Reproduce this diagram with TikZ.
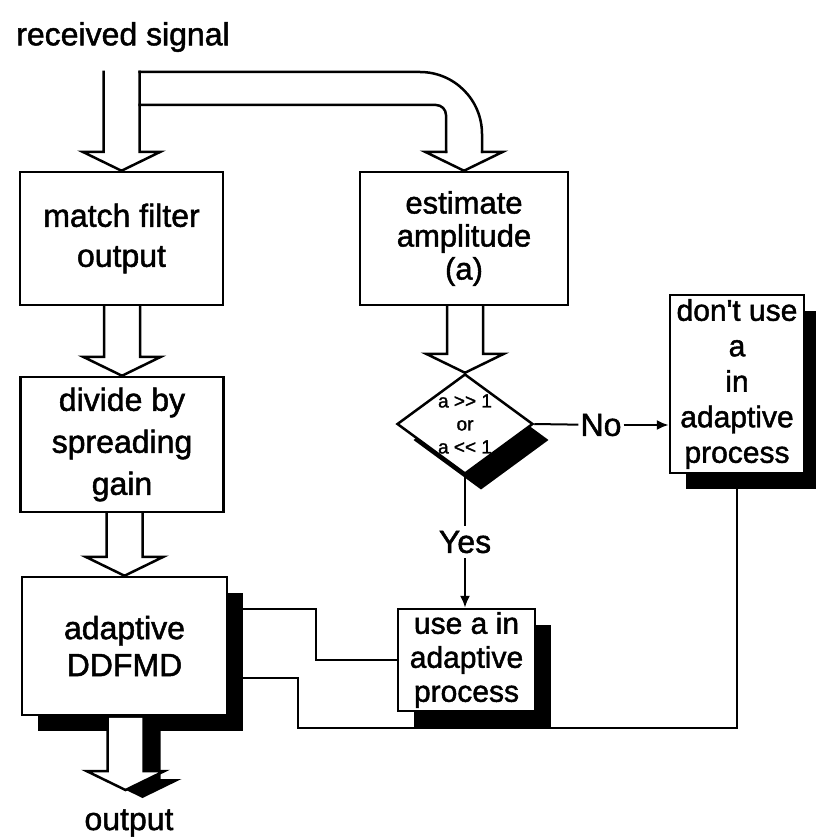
\documentclass[tikz,border=0pt]{standalone}
\usepackage{fontspec}
\setmainfont{Liberation Sans}[UprightFeatures={FakeBold=1.5}]
\usetikzlibrary{
  shapes.geometric,
  arrows.meta,
  calc,
  shadows,
  backgrounds
}
\tikzset{
  % Process box: width as argument
  blk/.style={
    rectangle, draw, line width=2.5pt, fill=white,
    minimum width=#1, inner sep=0pt, align=center
  },
  blk/.default=203pt,
  % Solid black offset shadow
  shd/.style={drop shadow={shadow xshift=16pt, shadow yshift=-16pt, fill=black, opacity=1}},
  opshd/.style={drop shadow={shadow xshift=17pt, shadow yshift=-8pt, fill=black, opacity=1}},
  % Decision diamond
  dec/.style={
    diamond, aspect=1.36, draw, line width=2.5pt, fill=white,
    minimum width=136pt, minimum height=100pt, inner sep=0pt,
    align=center, font=\fontsize{19}{23}\selectfont
  },
  % Hollow block arrow outline
  flow/.style={line width=2.5pt, line cap=rect, line join=miter},
  % Thin connector
  wire/.style={line width=2pt},
  arr/.style={wire, -{Latex[length=12pt,width=10pt]}},
  % Free text
  lbl/.style={inner sep=3pt, font=\fontsize{32}{38}\selectfont}
}
% Hollow arrow from the bottom of #2 down to the tip #3
\newcommand{\hollowarrow}[3][]{%
  \fill[white,#1] ($(#3|-#2)+(-18,1.5)$) -- ($(#3)+(-18,-19)$) -- ($(#3)+(-39,-19)$) -- (#3)
    -- ($(#3)+(39,-19)$) -- ($(#3)+(18,-19)$) -- ($(#3|-#2)+(18,1.5)$) -- cycle;
  \draw[flow] ($(#3|-#2)+(-18,0)$) -- ($(#3)+(-18,-19)$) -- ($(#3)+(-39,-19)$) -- (#3)
    -- ($(#3)+(39,-19)$) -- ($(#3)+(18,-19)$) -- ($(#3|-#2)+(18,0)$);%
}

\begin{document}
\begin{tikzpicture}[x=1pt, y=-1pt]
  \useasboundingbox (0,0) rectangle (815,840);

  \node[lbl] (rs) at (123,37) {received signal};
  \coordinate (sig) at (121.5,72);

  \node[blk, minimum height=133pt, font=\fontsize{32}{40}\selectfont] (mf) at (121.5,238.5) {match filter\\output};
  \node[blk=208pt, minimum height=133pt, font=\fontsize{31}{33}\selectfont] (ea) at (464,238.5) {estimate\\amplitude\\(a)};
  \node[blk, minimum height=135pt, font=\fontsize{32}{42}\selectfont] (dv) at (122,444.5) {divide by\\spreading\\gain};
  \node[blk=205pt, shd, minimum height=138pt, font=\fontsize{32}{37}\selectfont] (ad) at (124.5,646) {adaptive\\DDFMD};
  \node[dec, shd] (dm) at (465,424) {a >\kern0pt> 1\\or\\a <\kern0pt< 1};
  \node[blk=137pt, shd, minimum height=102pt, font=\fontsize{30}{34}\selectfont] (ua) at (466.5,660) {use a in\\adaptive\\process};
  \node[blk=134pt, shd, minimum height=178pt, font=\fontsize{30}{35.5}\selectfont] (du) at (737,384) {don\textquotesingle t use\\a\\in\\adaptive\\process};

  % input split
  \hollowarrow{sig}{mf.north}
  \draw[flow, rounded corners=62pt] ($(sig)+(18,0)$) -| ($(ea.north)+(18,-19)$);
  \draw[flow] ($(ea.north)+(18,-19)$) -- ($(ea.north)+(39,-19)$) -- (ea.north)
    -- ($(ea.north)+(-39,-19)$) -- ($(ea.north)+(-18,-19)$);
  \draw[flow, rounded corners=10pt] ($(ea.north)+(-18,-19)$) |- ($(sig)+(18,33)$);

  \hollowarrow{mf.south}{dv.north}
  \hollowarrow{dv.south}{ad.north}
  \hollowarrow{ea.south}{dm.north}

  \coordinate (optip) at (125.5,790);
  \hollowarrow[opshd]{ad.south}{optip}
  \node[lbl] (op) at (129,823) {output};

  % decision
  \node[lbl, inner sep=5pt] (yes) at (465,542) {Yes};
  \draw[wire] (dm.south) -- (yes);
  \draw[arr] (yes) -- (yes |- ua.north);
  \node[lbl, inner sep=2pt] (no) at (601,425) {No};
  \draw[wire] (dm.east) -- (no);
  \draw[arr] (no) -- (no -| du.west);

  % feedback to DDFMD
  \begin{scope}[on background layer]
    \draw[wire] ($(ad.north east)+(0,33)$) -- ++(88,0) |- (ua.west);
    \draw[wire] ($(ad.east)+(0,32)$) -- ++(70,0) -- ++(0,50) -| (du.south);
  \end{scope}
\end{tikzpicture}
\end{document}
